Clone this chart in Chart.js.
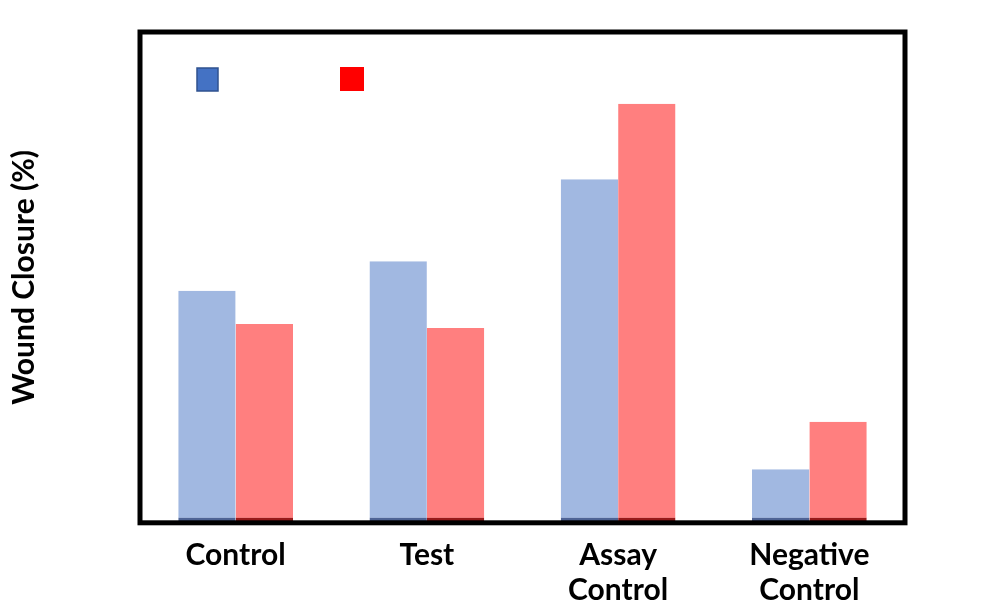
<!DOCTYPE html>
<html>
<head>
<meta charset="utf-8">
<script src="https://cdn.jsdelivr.net/npm/chart.js@4.4.0/dist/chart.umd.min.js"></script>
<style>
  body { margin: 0; background: #fff; }
</style>
</head>
<body>
<canvas id="woundChart" width="990" height="603"></canvas>
<script>
// dati
var categorie = [['Control'], ['Test'], ['Assay', 'Control'], ['Negative', 'Control']];
var valori24h = [47.3, 53.3, 70, 10.9];
var valori48h = [40.5, 39.7, 85.4, 20.6];
var nomiSerie = ['24 h', '48 h'];

// riquadro nero attorno all'area del grafico
var cornice = {
  id: 'cornice',
  afterDraw: function(chart) {
    var a = chart.chartArea;
    var ctx = chart.ctx;
    ctx.save();
    ctx.strokeStyle = '#000';
    ctx.lineWidth = 5;
    ctx.strokeRect(a.left, a.top, a.right - a.left, a.bottom - a.top);
    ctx.restore();
  }
};

// legenda disegnata dentro l'area del grafico
var legendaInterna = {
  id: 'legendaInterna',
  afterDraw: function(chart) {
    var a = chart.chartArea;
    var ctx = chart.ctx;
    ctx.save();
    // quadrato blu con bordo scuro
    ctx.fillStyle = '#4472C4';
    ctx.fillRect(a.left + 57, a.top + 36, 21, 23);
    ctx.strokeStyle = '#2F528F';
    ctx.lineWidth = 1.5;
    ctx.strokeRect(a.left + 57, a.top + 36, 21, 23);
    // quadrato rosso
    ctx.fillStyle = '#FF0000';
    ctx.fillRect(a.left + 200, a.top + 35, 24, 24);
    ctx.restore();
  }
};

var ctx = document.getElementById('woundChart');
var myChart = new Chart(ctx, {
  type: 'bar',
  data: {
    labels: categorie,
    datasets: [{
      label: nomiSerie[0],
      data: valori24h,
      backgroundColor: 'rgba(68, 114, 196, 0.5)',
      borderColor: 'rgba(47, 72, 130, 0.85)',
      borderWidth: { top: 0, left: 0, right: 0, bottom: 5 },
      borderSkipped: false,
      categoryPercentage: 0.6,
      barPercentage: 1
    }, {
      label: nomiSerie[1],
      data: valori48h,
      backgroundColor: 'rgba(255, 0, 0, 0.5)',
      borderColor: 'rgba(140, 0, 0, 0.9)',
      borderWidth: { top: 0, left: 0, right: 0, bottom: 5 },
      borderSkipped: false,
      categoryPercentage: 0.6,
      barPercentage: 1
    }]
  },
  options: {
    responsive: false,
    animation: false,
    devicePixelRatio: 1,
    layout: {
      padding: { top: 32, right: 85, bottom: -20, left: 6 }
    },
    plugins: {
      legend: { display: false },
      tooltip: { enabled: false }
    },
    scales: {
      x: {
        grid: { display: false, drawTicks: false },
        border: { display: false },
        ticks: {
          color: '#000',
          padding: 15,
          maxRotation: 0,
          font: { family: 'Lato', size: 30, weight: 'bold', lineHeight: 1.17 }
        }
      },
      y: {
        min: 0,
        max: 100,
        grid: { display: false },
        border: { display: false },
        ticks: { display: false },
        title: {
          display: true,
          text: 'Wound Closure (%)',
          color: '#000',
          padding: { top: 0, bottom: 90 },
          font: { family: 'Lato', size: 30, weight: 'bold' }
        }
      }
    }
  },
  plugins: [cornice, legendaInterna]
});
</script>
</body>
</html>
